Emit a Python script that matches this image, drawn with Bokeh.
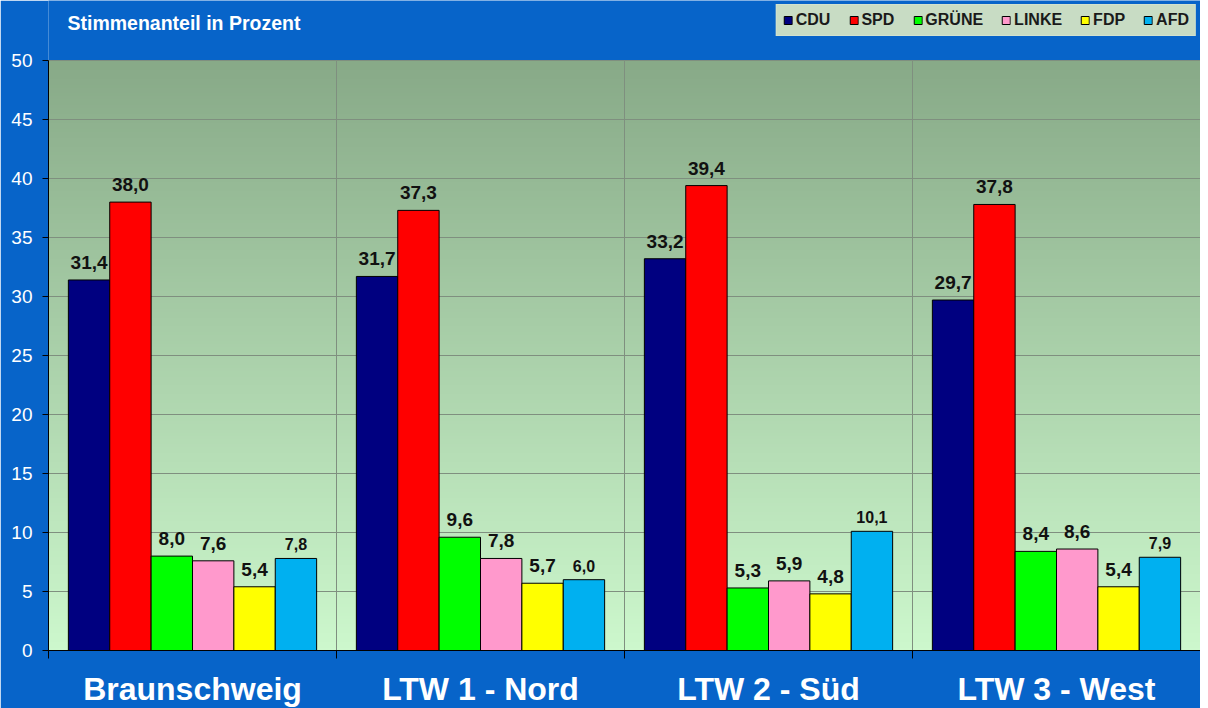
import numpy as np
from bokeh.plotting import figure
from bokeh.models import ColumnDataSource, FixedTicker, Legend, LegendItem, Label, Range1d
from bokeh.core.properties import value
from bokeh.embed import file_html
from bokeh.resources import INLINE

categories = ["Braunschweig", "LTW 1 - Nord", "LTW 2 - Süd", "LTW 3 - West"]
parties = ["CDU", "SPD", "GRÜNE", "LINKE", "FDP", "AFD"]
cdu = [31.4, 31.7, 33.2, 29.7]
spd = [38.0, 37.3, 39.4, 37.8]
gruene = [8.0, 9.6, 5.3, 8.4]
linke = [7.6, 7.8, 5.9, 8.6]
fdp = [5.4, 5.7, 4.8, 5.4]
afd = [7.8, 6.0, 10.1, 7.9]
series = [cdu, spd, gruene, linke, fdp, afd]
colors = ["#000080", "#ff0000", "#00ff00", "#ff99cc", "#ffff00", "#00b0f0"]
y_ticks = list(range(0, 51, 5))
y_max = 50

FONT = "Liberation Sans"
BLUE = "#0764c9"
GRID = "#7f8f7f"

# frame: top of canvas down to 650 px; value 50 sits 60 px below top
frame_h = 650
top_space = 60
y_top = y_max + top_space * y_max / (frame_h - top_space)

p = figure(frame_width=1152, frame_height=frame_h, output_backend="svg", toolbar_location=None,
           x_range=Range1d(0, len(categories)), y_range=Range1d(0, y_top),
           min_border_left=48, min_border_right=0, min_border_top=0, min_border_bottom=50)
p.border_fill_color = BLUE
p.background_fill_color = BLUE
p.outline_line_color = None

# background gradient of the plotting area
n = 200
top = np.array([136, 170, 136])
bot = np.array([205, 248, 205])
t = np.linspace(0, 1, n)[:, None]
rgb = (bot * (1 - t) + top * t).astype(np.uint32)
img = (255 << 24) | (rgb[:, 2] << 16) | (rgb[:, 1] << 8) | rgb[:, 0]
img = img.reshape(n, 1)
p.image_rgba(image=[img], x=0, y=0, dw=len(categories), dh=y_max, level="image")

# grid lines
p.xgrid.visible = False
p.ygrid.ticker = FixedTicker(ticks=y_ticks)
p.ygrid.grid_line_color = GRID
bx = list(range(1, len(categories)))
p.segment(x0=bx, y0=[0] * len(bx), x1=bx, y1=[y_max] * len(bx), line_color=GRID, line_width=1,
          level="underlay")

group_pad = 0.069
bw = (1 - 2 * group_pad) / 6
renderers = []
for i, (name, vals, col) in enumerate(zip(parties, series, colors)):
    xs = [g + group_pad + (i + 0.5) * bw for g in range(len(categories))]
    src = ColumnDataSource(dict(x=xs, top=vals, lab=[f"{v:.1f}".replace(".", ",") for v in vals]))
    r = p.vbar(x="x", top="top", width=bw, bottom=0, source=src, fill_color=col,
               line_color="black", line_width=1)
    renderers.append((name, r))
    small = name == "AFD"
    p.text(x="x", y="top", text="lab", source=src, text_align="center", text_baseline="bottom",
           y_offset=-8 if small else -11, text_font=value(FONT), text_font_style="bold",
           text_font_size="16px" if small else "19px", text_color="#111111")

# axes
xt = FixedTicker(ticks=[g + 0.5 for g in range(len(categories))], minor_ticks=list(range(len(categories) + 1)))
p.xaxis.ticker = xt
p.xaxis.major_label_overrides = {g + 0.5: c for g, c in enumerate(categories)}
p.xaxis.major_tick_out = 0
p.xaxis.major_tick_in = 0
p.xaxis.minor_tick_out = 8
p.xaxis.minor_tick_in = 0
p.xaxis.minor_tick_line_color = "black"
p.xaxis.axis_line_color = "black"
p.xaxis.major_label_text_color = "white"
p.xaxis.major_label_text_font = FONT
p.xaxis.major_label_text_font_style = "bold"
p.xaxis.major_label_text_font_size = "32px"
p.xaxis.major_label_standoff = 12

p.yaxis.ticker = FixedTicker(ticks=y_ticks)
p.yaxis.bounds = (0, y_max)
p.yaxis.major_tick_out = 6
p.yaxis.major_tick_in = 0
p.yaxis.minor_tick_line_color = None
p.yaxis.major_tick_line_color = "black"
p.yaxis.axis_line_color = "black"
p.yaxis.major_label_text_color = "white"
p.yaxis.major_label_text_font = FONT
p.yaxis.major_label_text_font_size = "19px"
p.yaxis.major_label_standoff = 10

# title
p.add_layout(Label(x=19, y=frame_h - 22, x_units="screen", y_units="screen", text="Stimmenanteil in Prozent",
                   text_color="white", text_font=FONT, text_font_style="bold", text_font_size="19.5px",
                   text_baseline="middle"))

legend = Legend(items=[LegendItem(label=n_, renderers=[r]) for n_, r in renderers],
                orientation="horizontal", location="top_right",
                background_fill_color="#c8dcc4", background_fill_alpha=1,
                border_line_color="#dbe8d8", border_line_width=1,
                label_text_font=FONT, label_text_font_style="bold", label_text_font_size="16px",
                label_text_color="#1a1a1a", glyph_width=10, glyph_height=10,
                label_standoff=3, spacing=18, padding=6, margin=4, label_height=16)
p.add_layout(legend, "center")

open("out.html", "w").write(file_html(p, INLINE))
